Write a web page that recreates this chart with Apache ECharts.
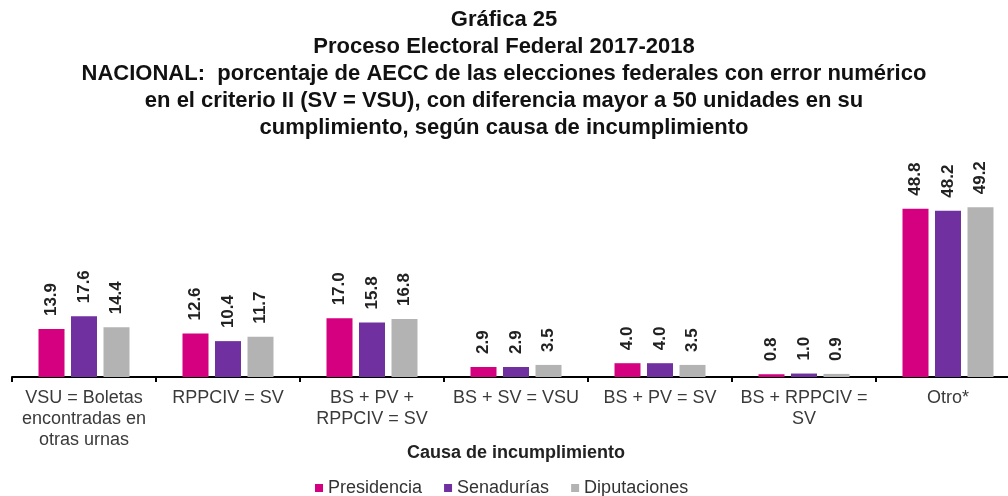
<!DOCTYPE html>
<html lang="es">
<head>
    <meta charset="UTF-8">
    <title>Gráfica 25</title>
    <script src="https://cdn.jsdelivr.net/npm/echarts@6/dist/echarts.min.js"></script>
    <style>
        html, body { margin: 0; padding: 0; background: #fff; }
        #chart { width: 1008px; height: 496px; }
    </style>
</head>
<body>
<div id="chart"></div>
<script>
    // datos
    var categorias = [
        'VSU = Boletas\nencontradas en\notras urnas',
        'RPPCIV = SV',
        'BS + PV +\nRPPCIV = SV',
        'BS + SV = VSU',
        'BS + PV = SV',
        'BS + RPPCIV =\nSV',
        'Otro*'
    ];
    var presidencia = [13.9, 12.6, 17.0, 2.9, 4.0, 0.8, 48.8];
    var senadurias = [17.6, 10.4, 15.8, 2.9, 4.0, 1.0, 48.2];
    var diputaciones = [14.4, 11.7, 16.8, 3.5, 3.5, 0.9, 49.2];

    var fuente = '"Liberation Sans", Arial, sans-serif';

    var etiqueta = {
        show: true,
        position: 'top',
        rotate: 90,
        align: 'left',
        verticalAlign: 'middle',
        distance: 13,
        fontFamily: fuente,
        fontSize: 17,
        fontWeight: 'bold',
        color: '#222',
        formatter: function (p) { return p.value.toFixed(1); }
    };

    function serie(nombre, datos, color) {
        return {
            name: nombre,
            type: 'bar',
            data: datos,
            barWidth: 26,
            barGap: '25%',
            itemStyle: { color: color },
            label: etiqueta
        };
    }

    var chart = echarts.init(document.getElementById('chart'));
    chart.setOption({
        animation: false,
        textStyle: { fontFamily: fuente },
        title: {
            text: 'Gráfica 25\nProceso Electoral Federal 2017-2018\nNACIONAL:  porcentaje de AECC de las elecciones federales con error numérico\nen el criterio II (SV = VSU), con diferencia mayor a 50 unidades en su\ncumplimiento, según causa de incumplimiento',
            left: 'center',
            top: 1,
            textStyle: {
                fontFamily: fuente,
                fontSize: 22,
                fontWeight: 'bold',
                color: '#111',
                lineHeight: 27,
                align: 'center'
            }
        },
        legend: {
            top: 474,
            left: 310,
            itemWidth: 8,
            itemHeight: 8,
            itemGap: 22,
            icon: 'rect',
            textStyle: { fontFamily: fuente, fontSize: 18, color: '#333' },
            data: ['Presidencia', 'Senadurías', 'Diputaciones']
        },
        grid: { left: 12, width: 1008, top: 170, bottom: 119, outerBoundsMode: 'none', containLabel: false },
        xAxis: {
            type: 'category',
            data: categorias,
            name: 'Causa de incumplimiento',
            nameLocation: 'middle',
            nameGap: 67,
            nameMoveOverlap: false,
            nameTextStyle: { fontFamily: fuente, fontSize: 18, fontWeight: 'bold', color: '#222' },
            axisLine: { lineStyle: { color: '#000', width: 2 } },
            axisTick: { show: true, length: 5, lineStyle: { color: '#000', width: 2 } },
            axisLabel: {
                interval: 0,
                margin: 11,
                fontFamily: fuente,
                fontSize: 18,
                lineHeight: 21,
                color: '#3a3a3a'
            }
        },
        yAxis: {
            type: 'value',
            min: 0,
            max: 60,
            show: false,
            splitLine: { show: false }
        },
        series: [
            serie('Presidencia', presidencia, '#d5007f'),
            serie('Senadurías', senadurias, '#7030a0'),
            serie('Diputaciones', diputaciones, '#b3b3b3')
        ]
    });
</script>
</body>
</html>
